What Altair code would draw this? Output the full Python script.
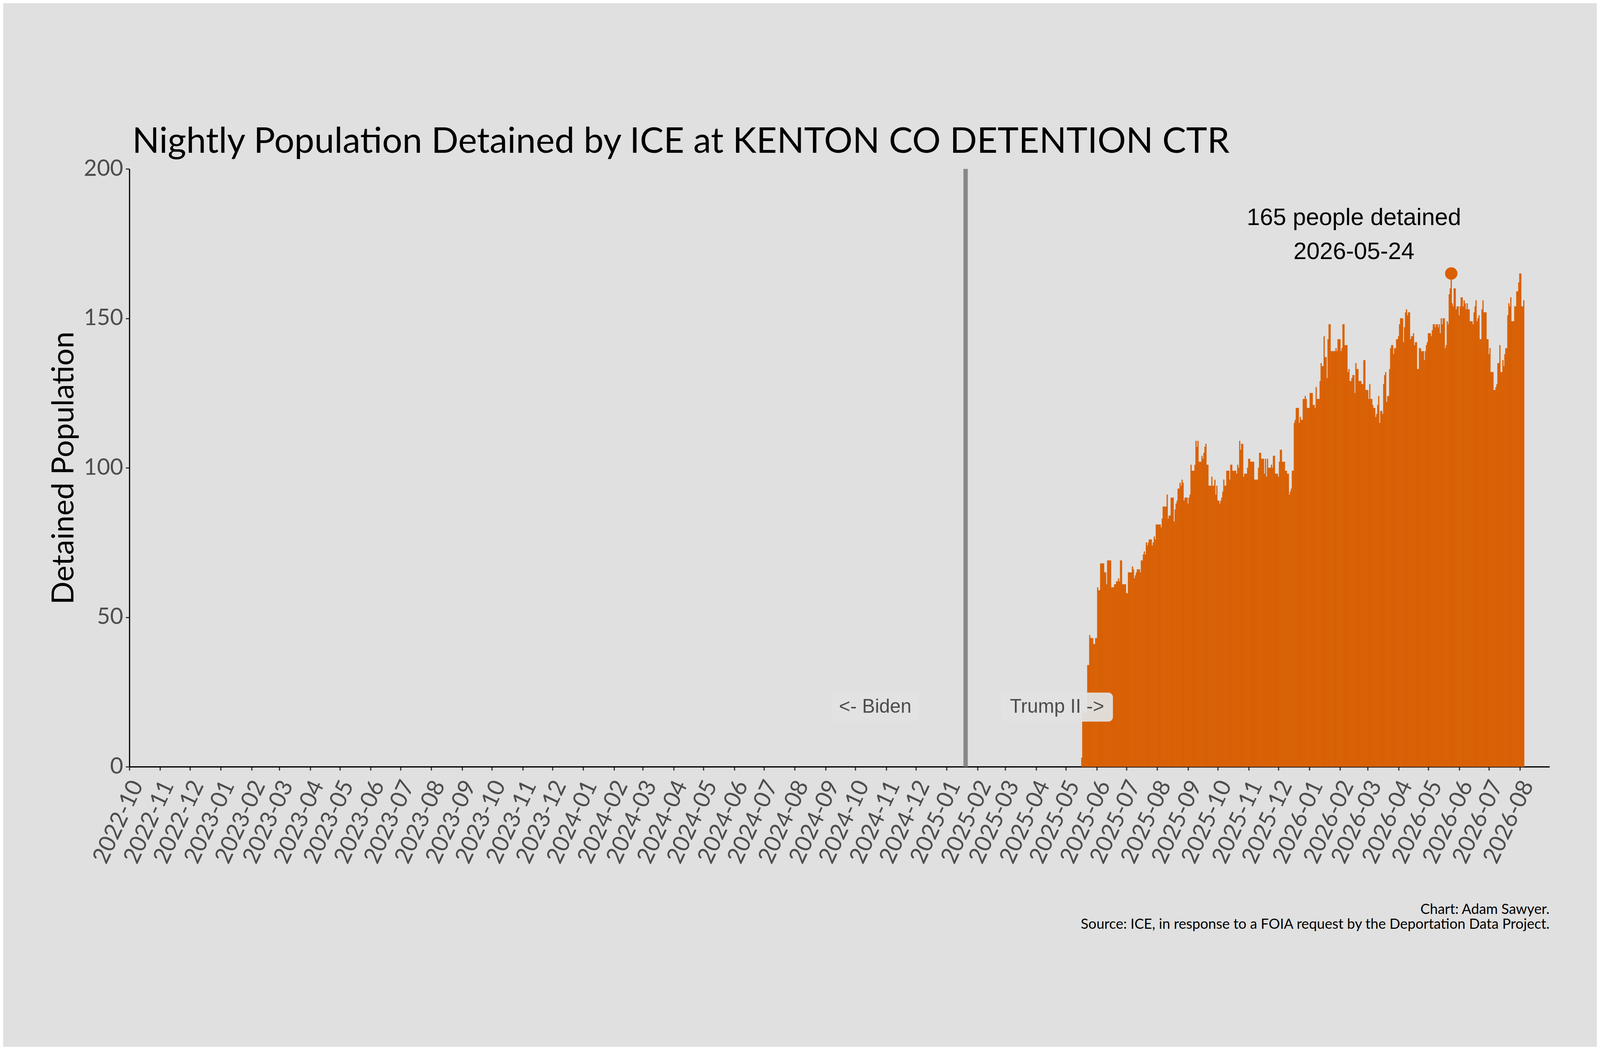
import altair as alt
import pandas as pd

# ---------------- data (nightly population) ----------------
may_2025 = [3, 18, 18, 18, 18, 18, 34, 34, 44, 43, 43, 43, 41, 41, 43]            # from 05-17
jun_2025 = [43, 60, 59, 59, 68, 68, 68, 68, 65, 65, 61, 69, 69, 69, 69, 60, 60, 60,
            61, 61, 62, 62, 63, 62, 69, 69, 61, 61, 61, 61]
jul_2025 = [58, 58, 65, 65, 65, 65, 67, 66, 63, 64, 65, 66, 66, 66, 65, 69, 69, 71,
            72, 71, 75, 74, 75, 76, 76, 76, 74, 75, 77, 76, 81]
aug_2025 = [81, 81, 81, 81, 80, 83, 87, 87, 87, 87, 91, 83, 84, 84, 90, 90, 90, 82,
            86, 88, 89, 93, 93, 95, 94, 96, 95, 89, 90, 90, 90]
sep_2025 = [88, 90, 91, 101, 99, 99, 99, 101, 109, 107, 109, 102, 102, 102, 104, 103,
            105, 107, 108, 101, 101, 94, 94, 94, 97, 94, 94, 96, 91, 94]
oct_2025 = [89, 89, 88, 89, 90, 92, 96, 94, 94, 99, 99, 99, 96, 101, 101, 99, 99, 99,
            99, 98, 101, 100, 109, 106, 108, 108, 97, 98, 98, 98, 100]
nov_2025 = [103, 103, 102, 102, 102, 102, 96, 96, 96, 96, 100, 105, 105, 103, 103, 103,
            98, 103, 97, 103, 100, 100, 100, 101, 100, 104, 104, 98, 98, 98]
dec_2025 = [97, 102, 106, 106, 102, 102, 102, 99, 99, 98, 98, 91, 92, 93, 99, 99, 115,
            116, 120, 120, 120, 115, 117, 116, 116, 123, 123, 124, 123, 120, 120]
jan_2026 = [120, 125, 125, 125, 121, 121, 120, 127, 123, 123, 123, 129, 135, 134, 134,
            144, 137, 137, 130, 143, 148, 148, 139, 139, 139, 139, 139, 140, 139, 143, 143]
feb_2026 = [143, 139, 140, 148, 148, 141, 141, 141, 132, 133, 129, 129, 130, 131, 131,
            125, 135, 133, 133, 129, 129, 129, 128, 128, 136, 136, 126, 126]
mar_2026 = [126, 123, 128, 123, 123, 121, 120, 120, 117, 118, 121, 124, 115, 119, 119,
            118, 128, 131, 132, 122, 124, 124, 133, 140, 141, 141, 138, 140, 140, 143, 143]
apr_2026 = [144, 148, 150, 150, 150, 142, 147, 152, 153, 151, 152, 152, 143, 144, 144,
            145, 141, 142, 142, 133, 133, 140, 140, 139, 139, 139, 136, 139, 141, 142]
may_2026 = [145, 145, 145, 144, 146, 148, 148, 147, 148, 148, 147, 148, 145, 150, 148,
            150, 150, 140, 141, 149, 148, 158, 160, 165, 155, 154, 160, 160, 153, 154, 154]
jun_2026 = [151, 154, 157, 157, 154, 156, 155, 153, 155, 153, 153, 149, 149, 149, 148,
            152, 154, 156, 149, 150, 151, 143, 143, 153, 156, 152, 152, 152, 143, 143]
jul_2026 = [138, 140, 132, 132, 132, 126, 126, 127, 128, 135, 135, 141, 132, 132, 136,
            134, 138, 140, 140, 151, 155, 154, 157, 149, 149, 149, 154, 154, 159, 159, 162]
aug_2026 = [165, 165, 154, 154, 156]

month_blocks = [
    ("2025-05-17", may_2025), ("2025-06-01", jun_2025), ("2025-07-01", jul_2025),
    ("2025-08-01", aug_2025), ("2025-09-01", sep_2025), ("2025-10-01", oct_2025),
    ("2025-11-01", nov_2025), ("2025-12-01", dec_2025), ("2026-01-01", jan_2026),
    ("2026-02-01", feb_2026), ("2026-03-01", mar_2026), ("2026-04-01", apr_2026),
    ("2026-05-01", may_2026), ("2026-06-01", jun_2026), ("2026-07-01", jul_2026),
    ("2026-08-01", aug_2026),
]

peak_date = "2026-05-24"
peak_value = 165
inauguration = "2025-01-20"
era_labels = ["<- Biden", "Trump II ->"]
era_label_dates = ["2024-10-21", "2025-04-22"]
era_label_value = 20
annot_lines = ["165 people detained", "2026-05-24"]
annot_date = "2026-02-15"
annot_values = [181.2, 169.9]
title_text = "Nightly Population Detained by ICE at KENTON CO DETENTION CTR"
footer_lines = ["Chart: Adam Sawyer.",
                "Source: ICE, in response to a FOIA request by the Deportation Data Project."]
tick_months = pd.date_range("2022-10-01", "2026-08-01", freq="MS")

# ---------------- build tables ----------------
rows = []
for start, vals in month_blocks:
    for i, v in enumerate(vals):
        d = pd.Timestamp(start) + pd.Timedelta(days=i)
        rows.append({
            "d": (d - pd.Timedelta(hours=12)).strftime("%Y-%m-%dT%H:%M:%SZ"),
            "d2": (d + pd.Timedelta(hours=12)).strftime("%Y-%m-%dT%H:%M:%SZ"),
            "v": v,
            "z": 0,
        })
bars_df = pd.DataFrame(rows)


def iso(s):
    return pd.Timestamp(s).strftime("%Y-%m-%dT%H:%M:%SZ")


ORANGE = "#d95f02"
BG = "#e0e0e0"
SANS = "Lato"
ARIAL = "Liberation Sans"

X_SCALE = alt.Scale(type="utc",
                    domain=[alt.DateTime(year=2022, month=10, date=1, utc=True),
                            alt.DateTime(year=2026, month=8, date=31, utc=True)])
Y_SCALE = alt.Scale(domain=[0, 200], nice=False)

X_AXIS = alt.Axis(
    title=None,
    values=[alt.DateTime(year=t.year, month=t.month, date=1, utc=True) for t in tick_months],
    labelExpr="utcFormat(datum.value, '%Y-%m')",
    labelAngle=-65, labelAlign="right", labelBaseline="alphabetic",
    labelFont=SANS, labelFontSize=69, labelColor="#4d4d4d",
    labelPadding=43, labelOffset=42,
    labelOverlap=False, labelFlush=False, labelLimit=600,
    tickSize=11, tickWidth=3.5, tickColor="#333333",
    domainColor="black", domainWidth=4, grid=False,
)
Y_AXIS = alt.Axis(
    title="Detained Population", values=[0, 50, 100, 150, 200],
    labelFont=SANS, labelFontSize=68, labelColor="#4d4d4d", labelPadding=8,
    labelFlush=False,
    tickSize=11, tickWidth=3.5, tickColor="#333333",
    domainColor="black", domainWidth=3.5, grid=False,
    titleFont=SANS, titleFontSize=91, titleFontWeight="normal", titleColor="black",
    titlePadding=12,
)


def X(field="d"):
    return alt.X(f"{field}:T", scale=X_SCALE, axis=X_AXIS)


def Y(field="v"):
    return alt.Y(f"{field}:Q", scale=Y_SCALE, axis=Y_AXIS)


bars = alt.Chart(bars_df).mark_bar(color=ORANGE, stroke=ORANGE, strokeWidth=0.6).encode(
    x=X(), x2="d2:T", y=Y(), y2="z:Q")

vline = alt.Chart(pd.DataFrame({"d": [iso(inauguration)]})).mark_rule(
    color="#888888", strokeWidth=13).encode(x=X())

era_df = pd.DataFrame({"d": [iso(s) for s in era_label_dates],
                       "v": [era_label_value] * 2, "t": era_labels})

box_biden = alt.Chart(era_df.iloc[[0]]).mark_rect(
    color="#e2e2e2", opacity=0.95, cornerRadius=14,
    xOffset=-131, x2Offset=131, yOffset=-43, y2Offset=44).encode(
    x=X(), x2="d:T", y=Y(), y2="v:Q")
box_trump = alt.Chart(era_df.iloc[[1]]).mark_rect(
    color="#e2e2e2", opacity=0.95, cornerRadius=14,
    xOffset=-168, x2Offset=168, yOffset=-43, y2Offset=44).encode(
    x=X(), x2="d:T", y=Y(), y2="v:Q")

era_text = alt.Chart(era_df).mark_text(
    font=ARIAL, fontSize=58, color="#4d4d4d", align="center", baseline="middle").encode(
    x=X(), y=Y(), text="t:N")

peak = alt.Chart(pd.DataFrame({"d": [iso(peak_date)], "v": [peak_value]})).mark_point(
    filled=True, color=ORANGE, opacity=1, size=1385).encode(x=X(), y=Y())

annot = alt.Chart(pd.DataFrame({"d": [iso(annot_date)] * 2, "v": annot_values,
                                "t": annot_lines})).mark_text(
    font=ARIAL, fontSize=71, color="black", align="center", baseline="alphabetic").encode(
    x=X(), y=Y(), text="t:N")

title = alt.Chart(pd.DataFrame({"t": [title_text]})).mark_text(
    font=SANS, fontSize=107, color="black", align="left", baseline="alphabetic").encode(
    x=alt.value(8.5), y=alt.value(-48), text="t:N")

footer1 = alt.Chart(pd.DataFrame({"t": [footer_lines[0]]})).mark_text(
    font=SANS, fontSize=42.5, color="black", align="right", baseline="alphabetic").encode(
    x=alt.value(4263), y=alt.value(2236), text="t:N")
footer2 = alt.Chart(pd.DataFrame({"t": [footer_lines[1]]})).mark_text(
    font=SANS, fontSize=42.5, color="black", align="right", baseline="alphabetic").encode(
    x=alt.value(4263), y=alt.value(2280), text="t:N")

chart = alt.layer(
    bars, vline, box_biden, box_trump, era_text, peak, annot, title, footer1, footer2
).properties(
    width=4263, height=1794,
    background=BG,
    padding={"left": 379, "top": 267, "right": 142, "bottom": 610},
    autosize=alt.AutoSizeParams(type="none"),
).configure_view(stroke="transparent")

chart.save("out.html", embed_options={"renderer": "svg", "actions": False})
